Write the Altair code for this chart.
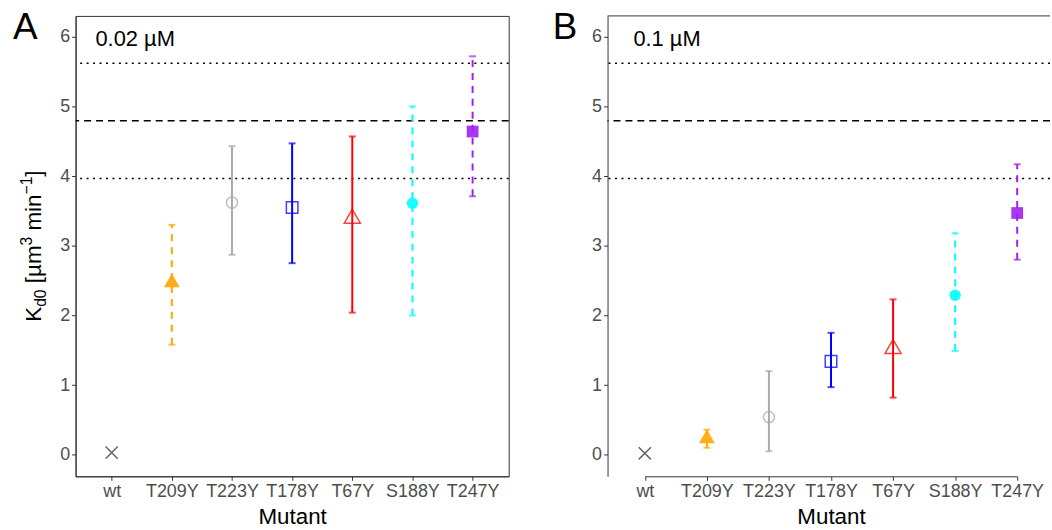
import altair as alt
import pandas as pd

# ---------------- data ----------------
mutants = ["wt", "T209Y", "T223Y", "T178Y", "T67Y", "S188Y", "T247Y"]
colors = ["#333333", "#FFA500", "#AAAAAA", "#0000FF", "#FF0000", "#00FFFF", "#A020F0"]
filled = [False, True, False, False, False, True, True]

# panel A: 0.02 uM
kd_a = [0.03, 2.47, 3.62, 3.55, 3.39, 3.61, 4.64]
lo_a = [None, 1.58, 2.87, 2.75, 2.04, 2.00, 3.71]
hi_a = [None, 3.30, 4.43, 4.47, 4.57, 5.00, 5.72]

# panel B: 0.1 uM
kd_b = [0.02, 0.23, 0.54, 1.34, 1.52, 2.29, 3.47]
lo_b = [None, 0.10, 0.05, 0.97, 0.82, 1.49, 2.80]
hi_b = [None, 0.36, 1.20, 1.75, 2.23, 3.18, 4.17]

ref_values = [5.62, 4.795, 3.965]
ref_kinds = ["dotted", "dashed", "dotted"]

y_ticks = [0, 1, 2, 3, 4, 5, 6]

# ---------------- styles ----------------
FONT = "Liberation Sans, Arial, sans-serif"
X_PATH = "M-1,-1L1,1M-1,1L1,-1"
TRI_PATH = "M0,-1L0.866,0.5L-0.866,0.5Z"
shapes = [X_PATH, TRI_PATH, "circle", "square", TRI_PATH, "circle", "square"]
sizes = [150, 340, 125, 135, 350, 130, 140]
dashes = [[1, 0], [7, 6], [1, 0], [1, 0], [1, 0], [7, 6], [7, 6]]

H = 463
Y_DOMAIN = [-0.31, 6.3]


def make_panel(kd, lo, hi, letter, conc, width, xscale, letter_x, conc_x, ytitle):
    df = pd.DataFrame({"mutant": mutants, "kd": kd, "lo": lo, "hi": hi, "filled": filled})
    bars_df = df.dropna(subset=["lo"])

    x_enc = alt.X("mutant:N", sort=mutants, scale=xscale,
                  axis=alt.Axis(title="Mutant", labelAngle=0))
    yscale = alt.Scale(domain=Y_DOMAIN, nice=False, zero=False)
    yaxis = alt.Axis(title=None, values=y_ticks)
    color = alt.Color("mutant:N", scale=alt.Scale(domain=mutants, range=colors), legend=None)
    shape = alt.Shape("mutant:N", scale=alt.Scale(domain=mutants, range=shapes), legend=None)
    size = alt.Size("mutant:N", scale=alt.Scale(type="ordinal", domain=mutants, range=sizes), legend=None)

    ref_df = pd.DataFrame({"v": ref_values, "kind": ref_kinds})
    dotted = alt.Chart(ref_df).transform_filter(alt.datum.kind == "dotted").mark_rule(
        color="black", strokeWidth=1.5, strokeDash=[2, 4.5]
    ).encode(y=alt.Y("v:Q", scale=yscale, axis=yaxis))
    dashed = alt.Chart(ref_df).transform_filter(alt.datum.kind == "dashed").mark_rule(
        color="black", strokeWidth=1.5, strokeDash=[7, 5]
    ).encode(y=alt.Y("v:Q", scale=yscale, axis=yaxis))

    bars = alt.Chart(bars_df).mark_rule(strokeWidth=2).encode(
        x=x_enc,
        y=alt.Y("lo:Q", scale=yscale, axis=yaxis),
        y2="hi:Q",
        color=color,
        strokeDash=alt.StrokeDash("mutant:N", scale=alt.Scale(domain=mutants, range=dashes), legend=None),
    )
    cap_hi = alt.Chart(bars_df).mark_tick(size=7, thickness=2).encode(
        x=x_enc, y=alt.Y("hi:Q", scale=yscale, axis=yaxis), color=color)
    cap_lo = alt.Chart(bars_df).mark_tick(size=7, thickness=2).encode(
        x=x_enc, y=alt.Y("lo:Q", scale=yscale, axis=yaxis), color=color)

    pts_open = alt.Chart(df).transform_filter(alt.datum.filled == False).mark_point(
        filled=False, strokeWidth=1.5, opacity=0.75
    ).encode(x=x_enc, y=alt.Y("kd:Q", scale=yscale, axis=yaxis), color=color, shape=shape, size=size)
    pts_fill = alt.Chart(df).transform_filter(alt.datum.filled == True).mark_point(
        filled=True, opacity=0.9
    ).encode(x=x_enc, y=alt.Y("kd:Q", scale=yscale, axis=yaxis), color=color, shape=shape, size=size)

    one = pd.DataFrame({"t": [letter]})
    letter_txt = alt.Chart(one).mark_text(
        fontSize=37, font=FONT, align="left", baseline="alphabetic", color="black"
    ).encode(text="t:N", x=alt.value(letter_x), y=alt.value(23))
    conc_txt = alt.Chart(pd.DataFrame({"t": [conc]})).mark_text(
        fontSize=22, font=FONT, align="left", baseline="alphabetic", color="black"
    ).encode(text="t:N", x=alt.value(conc_x), y=alt.value(30))

    layers = [dotted, dashed, bars, cap_hi, cap_lo, pts_open, pts_fill, letter_txt, conc_txt]

    if ytitle:
        # y-axis title  K_d0 [um^3 min^-1] built from rotated pieces
        pieces = ["K", "d0", "[µm", "3", "min", "\u22121", "]"]
        psize = [22.5, 15.75, 22.5, 15.75, 22.5, 15.75, 22.5]
        pshift = [0, 5, 0, -9, 0, -9, 0]
        lead = [0, 0, 0.278, 0, 0.278, 0, 0]  # leading space (em) before a piece
        pwidth = [0.667, 1.112, 1.687, 0.556, 1.611, 1.140, 0.278]
        total = sum((w + l) * s for w, l, s in zip(pwidth, lead, psize))
        start = H / 2 + total / 2
        base_x = -35
        cum = 0.0
        for txt, s, sh, w, l in zip(pieces, psize, pshift, pwidth, lead):
            cum += l * s
            layers.append(
                alt.Chart(pd.DataFrame({"t": [txt]})).mark_text(
                    fontSize=s, font=FONT, angle=270, align="left", baseline="alphabetic", color="black"
                ).encode(text="t:N", x=alt.value(base_x + sh), y=alt.value(start - cum))
            )
            cum += w * s

    return alt.layer(*layers).properties(width=width, height=H)


panel_a = make_panel(kd_a, lo_a, hi_a, "A", "0.02 µM", 435.6,
                     alt.Scale(type="point", domain=mutants, padding=0.6), -63, 20, True)

WB = 445
top_rule = alt.Chart(pd.DataFrame({"a": [0]})).mark_rule(color="#333333", strokeWidth=1).encode(
    x=alt.value(0), x2=alt.value(WB), y=alt.value(0))
panel_b = alt.layer(
    make_panel(kd_b, lo_b, hi_b, "B", "0.1 µM", WB,
               alt.Scale(type="point", domain=mutants, range=[37.5, 412], padding=0), -55, 26, False),
    top_rule,
).properties(width=WB, height=H, view=alt.ViewBackground(stroke="transparent"))

chart = alt.hconcat(panel_a, panel_b, spacing=42).resolve_scale(
    x="independent", y="independent"
).properties(
    padding={"left": 12, "top": 6.5, "right": 0, "bottom": 0},
    background="white",
).configure_view(
    stroke="#333333", strokeWidth=1
).configure_axis(
    grid=False,
    domain=True, domainColor="#333333", domainWidth=1,
    labelFont=FONT, labelFontSize=18, labelColor="#4d4d4d", labelPadding=2,
    tickColor="#333333", tickSize=4, tickWidth=1,
    titleFont=FONT, titleFontSize=22.5, titleFontWeight="normal", titleColor="black", titlePadding=5,
)

chart.save("out.html", embed_options={"renderer": "svg", "actions": False})
